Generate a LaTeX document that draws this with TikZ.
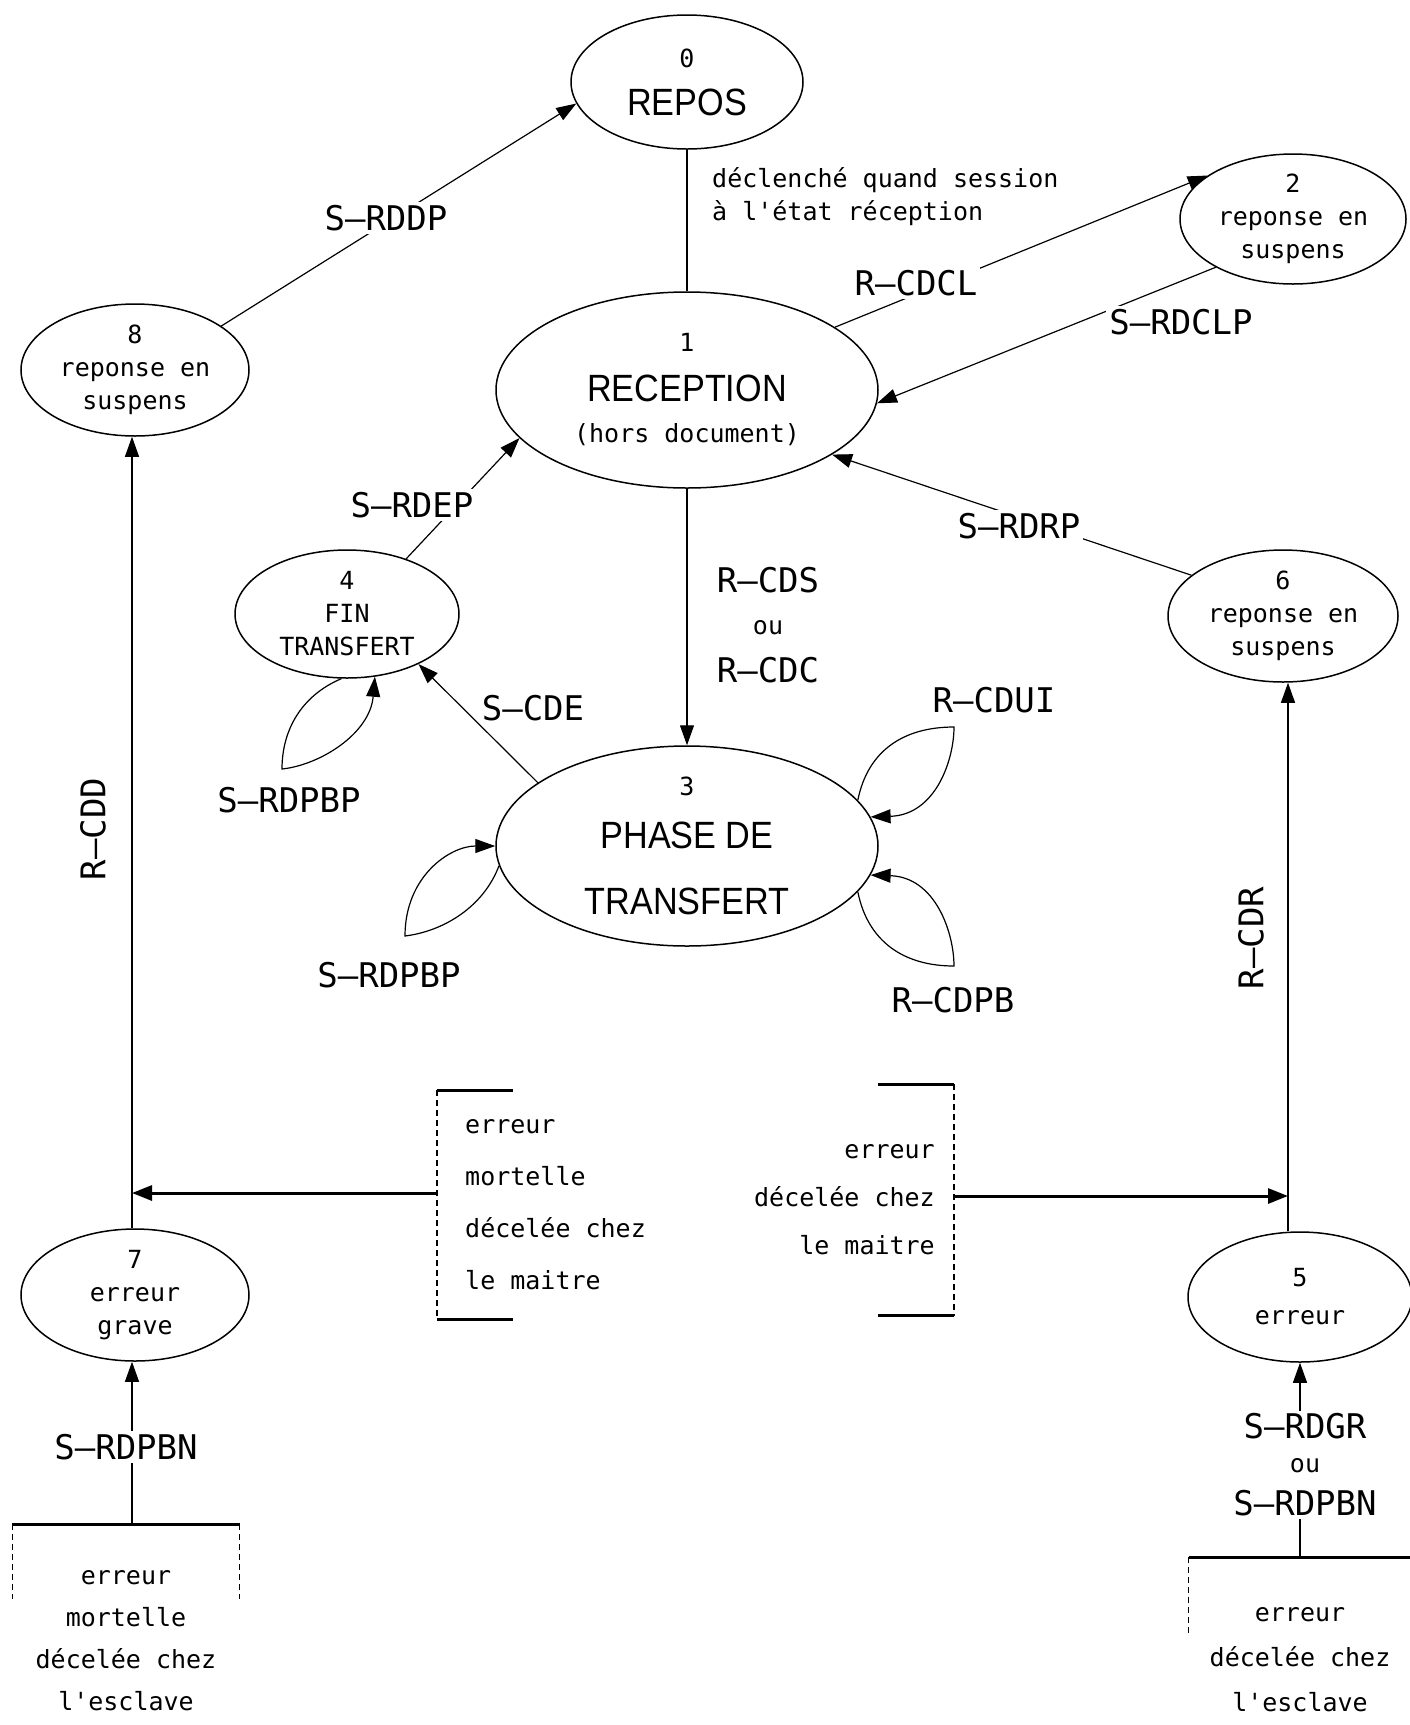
\documentclass[tikz,border=0pt]{standalone}
\usepackage{fontspec}
\usetikzlibrary{shapes.geometric, arrows.meta}
\newfontfamily\plotmono{DejaVu Sans Mono}
\newfontfamily\plotsans[FakeStretch=0.9]{Liberation Sans}
\newcommand\etat{\plotsans\fontsize{38}{46}\selectfont}
\newcommand\petit{\fontsize{25}{30}\selectfont}

\begin{document}
\begin{tikzpicture}[x=1pt, y=-1pt,
        st/.style={draw, ellipse, line width=1.5pt, inner sep=0pt, align=center, font=\plotmono\fontsize{25}{33}\selectfont},
        lbl/.style={fill=white, inner sep=3pt, align=center, font=\plotmono\fontsize{34}{45}\selectfont},
        tag/.style={inner sep=0pt, align=center, font=\plotmono\fontsize{34}{45}\selectfont},
        txt/.style={inner sep=0pt, font=\plotmono\fontsize{25}{#1}\selectfont},
        ln/.style={line width=1.2pt},
        arr/.style={line width=1.2pt, -{Triangle[length=20pt,width=14pt]}},
        harr/.style={line width=3pt, -{Triangle[length=20pt,width=15pt]}},
        stub/.style={line width=3pt},
        side/.style={line width=1.2pt, dash pattern=on 6pt off 4pt}]
      \useasboundingbox[fill=white] (0,0) rectangle (1409,1725);
      \node[st, minimum width=232pt, minimum height=134pt] (n0) at (687,82) {0\\[15pt]{\etat REPOS}};
      \node[st, minimum width=382pt, minimum height=196pt] (n1) at (687,390) {1\\[17pt]{\etat RECEPTION}\\[8pt](hors document)};
      \node[st, minimum width=226pt, minimum height=130pt] (n2) at (1293,219) {2\\reponse en\\suspens};
      \node[st, minimum width=382pt, minimum height=200pt] (n3) at (687,846) {3\\[20pt]{\etat PHASE DE}\\[33pt]{\etat TRANSFERT}};
      \node[st, minimum width=224pt, minimum height=128pt] (n4) at (347,614) {4\\FIN\\TRANSFERT};
      \node[st, minimum width=224pt, minimum height=130pt] (n5) at (1300,1297) {5\\[5pt]erreur};
      \node[st, minimum width=230pt, minimum height=132pt] (n6) at (1283,616) {6\\reponse en\\suspens};
      \node[st, minimum width=228pt, minimum height=132pt] (n7) at (135,1295) {7\\erreur\\grave};
      \node[st, minimum width=228pt, minimum height=132pt] (n8) at (135,370) {8\\reponse en\\suspens};

      \node[txt=52, anchor=west, minimum height=229pt, inner xsep=28pt, align=left] (mG) at (437,1205) {erreur\\mortelle\\décelée chez\\le maitre};
      \node[txt=48, anchor=east, minimum height=231pt, inner xsep=19pt, align=right] (mD) at (954,1200) {erreur\\décelée chez\\le maitre};
      \node[txt=42, anchor=north, minimum width=227pt, inner ysep=46pt, align=center] (eG) at (126,1524) {erreur\\mortelle\\décelée chez\\l'esclave};
      \node[txt=45, anchor=north, minimum width=222pt, inner ysep=50pt, align=center] (eD) at (1300,1557) {erreur\\décelée chez\\l'esclave};
      \coordinate (jG) at (132,1193);
      \coordinate (jD) at (1288,1196);

      \draw[ln] (n0) -- (n1);
      \draw[arr] (n8.27) -- (n0.191);
      \draw[arr] (n1.23) -- (n2.153);
      \draw[arr] (n2.212) -- (n1.356);
      \draw[arr] (n6.156) -- (n1.336);
      \draw[arr] (n4.43) -- (n1.196);
      \draw[arr] (n1) -- (n3);
      \draw[arr] (n3.157) -- (n4.325);
      \draw[arr] (n4.265) .. controls +(-40,17) and +(0,-39) .. (282,769) .. controls +(38,-4) and +(-5,57) .. (n4.294);
      \draw[arr] (n3.186) .. controls +(-15,40) and +(40,-5) .. (405,936) .. controls +(0,-60) and +(-45,0) .. (n3.180);
      \draw[arr] (n3.15) .. controls +(10,-50) and +(-50,0) .. (954,727) .. controls +(0,33) and +(65,-2) .. (n3.9);
      \draw[arr] (n3.345) .. controls +(10,50) and +(-50,0) .. (954,966) .. controls +(0,-33) and +(65,2) .. (n3.351);
      \draw[arr] (jG |- n7.north) -- (jG |- n8.south);
      \draw[arr] (jD |- n5.north) -- (jD |- n6.south);
      \draw[harr] (mG.west |- jG) -- (jG);
      \draw[harr] (mD.east |- jD) -- (jD);
      \draw[arr] (jG |- eG.north) -- (jG |- n7.south);
      \draw[arr] (eD.north) -- (n5.south);

      \draw[stub] ([xshift=76pt]mG.north west) -- (mG.north west);
      \draw[side] (mG.north west) -- (mG.south west);
      \draw[stub] (mG.south west) -- ([xshift=76pt]mG.south west);
      \draw[stub] ([xshift=-76pt]mD.north east) -- (mD.north east);
      \draw[side] (mD.north east) -- (mD.south east);
      \draw[stub] (mD.south east) -- ([xshift=-76pt]mD.south east);
      \draw[stub] (eG.north west) -- (eG.north east);
      \draw[side] (eG.north west) -- ++(0,75);
      \draw[side] (eG.north east) -- ++(0,75);
      \draw[stub] (eD.north west) -- (eD.north east);
      \draw[side] (eD.north west) -- ++(0,77);

      \node[lbl] (lDDP) at (386,218) {S—RDDP};
      \node[lbl] (lCDCL) at (916,283) {R—CDCL};
      \node[lbl] (lDCLP) at (1181,322) {S—RDCLP};
      \node[lbl] (lDRP) at (1019,526) {S—RDRP};
      \node[lbl] (lDEP) at (412,505) {S—RDEP};
      \node[tag] (lCDE) at (533,708) {S—CDE};
      \node[tag] (lCDS) at (768,625) {R—CDS\\[-3pt]{\petit ou}\\[3pt]R—CDC};
      \node[txt=33, anchor=west, align=left] (lses) at (712,197) {déclenché quand session\\à l'état réception};
      \node[tag] (lPBP4) at (289,800) {S—RDPBP};
      \node[tag] (lPBP3) at (389,975) {S—RDPBP};
      \node[tag] (lCDUI) at (994,700) {R—CDUI};
      \node[tag] (lCDPB) at (953,1000) {R—CDPB};
      \node[tag, rotate=90] (lCDD) at (93,829) {R—CDD};
      \node[tag, rotate=90] (lCDR) at (1251,938) {R—CDR};
      \node[lbl] (lPBN) at (126,1447) {S—RDPBN};
      \node[lbl] (lDGR) at (1305,1465) {S—RDGR\\[-11pt]{\petit ou}\\[-2pt]S—RDPBN};
\end{tikzpicture}
\end{document}
